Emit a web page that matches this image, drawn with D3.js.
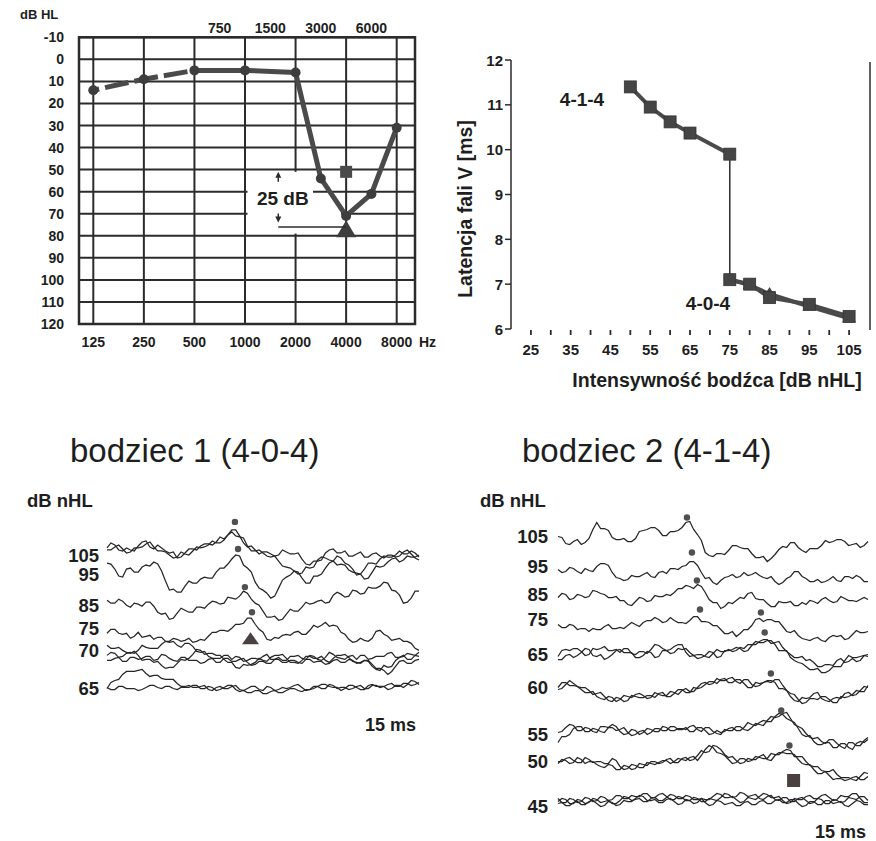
<!DOCTYPE html>
<html><head><meta charset="utf-8">
<script src="https://cdn.jsdelivr.net/npm/d3@7"></script>
<style>
body{margin:0;background:#fff}
svg text{font-family:"Liberation Sans",Arial,Helvetica,sans-serif;fill:#1e1e1e}
</style>
</head><body>
<svg id="c" width="876" height="841"></svg>
<script>
// ---------------- DATA ----------------
// Audiogram
const audioFreqs = ["125","180","250","375","500","750","1000","1500","2000","3000","4000","6000","8000"];
const octaveFreqs = ["125","250","500","1000","2000","4000","8000"];
const topFreqs = ["750","1500","3000","6000"];
const dbTicks = [-10,0,10,20,30,40,50,60,70,80,90,100,110,120];
const thrFreqs = ["125","250","500","1000","2000","3000","4000","6000","8000"];
const thrDb = [14,9,5,5,6,54,71,61,31];
const squareMark = ["4000",51];
const triangleMark = ["4000",77];
const annotRange = [51,74,76];   // arrow up tip, arrow down tip, reference line

// Latency of wave V
const latXTicks = [25,35,45,55,65,75,85,95,105];
const latMinorTicks = [25,30,35,40,45,50,55,60,65,70,75,80,85,90,95,100,105];
const latYTicks = [6,7,8,9,10,11,12];
const int414 = [50,55,60,65,75];
const lat414 = [11.4,10.95,10.62,10.37,9.9];
const int404 = [75,80,85,95,105];
const lat404 = [7.1,7.0,6.7,6.55,6.28];
const lat404b = [7.1,6.98,6.78,6.5,6.24];

// ABR waveforms: uniform samples over a 15 ms sweep, amplitude in a.u.
const sweepMs = 15;
const levels1 = ["105","95","85","75","70","65"];
const rowOff1 = [0,-19,-50,-73,-95,-133];
const L105a = [7,12,10,5,4,7,5,4,9,13,14,8,6,10,7,4,2,3,-3,-2,2,6,6,5,9,11,11,10,13,18,16,20,25,25,19,12,8,9,5,1,3,3,1,-1,0,5,3,1,1,2,-4,-9,-10,-6,-6,-5,2,5,6,2,2,4,-1,-1,1,3,-2,-2,1,2,-1,-3,0,0,-2,-1,3,5,1,-3,-5];
const L105b = [5,5,8,10,6,2,3,7,7,8,11,13,8,4,4,3,0,-3,-2,3,1,0,4,8,7,8,10,14,12,12,15,20,23,19,18,17,9,4,4,5,2,-1,-2,-1,-6,-11,-12,-13,-16,-19,-18,-12,-13,-12,-5,-2,-3,-5,-6,-1,-3,-8,-10,-14,-20,-19,-14,-8,-8,-9,-4,-1,-2,-2,0,4,1,1,4,2,-2];
const L95 = [11,10,5,-2,-3,5,6,2,2,7,9,8,12,10,3,-7,-16,-15,-18,-18,-12,-7,-9,-9,-5,-3,-4,-4,2,6,6,10,15,19,18,9,6,2,-8,-14,-16,-19,-24,-22,-14,-6,-3,-1,3,2,-4,-9,-9,-2,-2,0,6,11,13,9,10,9,4,2,1,0,-5,-4,2,8,7,8,12,15,16,12,14,18,17,17,19];
const L85 = [5,2,2,6,4,0,-2,2,1,-1,3,3,-1,-7,-9,-8,-14,-13,-8,-3,-5,-7,-7,-2,-2,-3,1,4,3,1,2,8,7,6,9,14,12,6,2,0,-6,-12,-12,-11,-15,-14,-9,-4,-6,-6,-2,3,1,2,4,5,2,3,10,13,11,8,9,15,14,11,12,18,17,17,19,23,22,15,14,10,2,3,7,14,14];
const L75 = [-5,-1,-1,-5,-6,-5,-10,-8,-4,-9,-8,-7,-11,-9,-9,-13,-13,-10,-11,-13,-12,-10,-14,-13,-11,-12,-8,-4,-4,-2,-2,-3,0,4,4,5,10,10,4,-1,-4,-11,-12,-9,-10,-7,-6,-7,-4,-3,-6,-6,-2,3,1,3,6,2,3,2,-4,-6,-11,-14,-13,-10,-12,-13,-10,-3,-2,-6,-8,-12,-11,-10,-13,-13,-15,-20,-22];
const L70a = [5,2,2,3,0,-2,-3,-1,-5,-10,-9,-9,-12,-11,-15,-18,-17,-17,-13,-9,-10,-8,-4,1,0,-4,-3,-3,-5,-5,-9,-12,-12,-17,-18,-14,-15,-14,-12,-8,-10,-11,-7,-5,-5,-4,-8,-12,-12,-13,-10,-6,-6,-8,-8,-6,-10,-12,-8,-5,-5,-4,-7,-11,-12,-13,-10,-11,-16,-19,-20,-15,-17,-16,-10,-7,-6,-3,-4,-5,-2];
const L70b = [-5,-2,-3,-7,-6,-3,-2,-3,0,5,3,2,2,2,6,9,8,9,5,3,7,7,4,-1,-2,-1,-6,-8,-8,-8,-5,-5,-9,-6,-7,-11,-10,-8,-8,-9,-6,-4,-9,-9,-7,-10,-10,-6,-6,-5,-8,-9,-5,-6,-9,-10,-7,-2,-4,-7,-8,-9,-6,-5,-9,-5,-5,-9,-8,-6,-6,-6,-3,-2,-7,-7,-5,-9,-9,-5,-6];
const L70c = [-10,-10,-8,-7,-11,-11,-7,-7,-9,-8,-6,-6,-10,-9,-4,-5,-8,-10,-11,-7,-7,-10,-10,-10,-13,-12,-9,-8,-12,-12,-8,-8,-11,-11,-9,-8,-12,-15,-14,-11,-11,-13,-13,-9,-9,-12,-12,-10,-10,-12,-13,-9,-9,-12,-11,-11,-14,-13,-10,-9,-12,-12,-9,-10,-13,-12,-10,-10,-14,-18,-18,-20,-24,-21,-16,-11,-10,-13,-13,-10,-9];
const L65a = [0,6,8,9,14,17,17,17,18,19,15,12,13,13,10,9,9,9,5,2,2,3,1,1,2,3,-1,-2,1,2,0,0,2,3,-1,-2,0,2,2,-1,-2,2,1,-2,-1,1,0,1,3,4,1,-2,-1,2,2,0,0,4,3,0,1,1,-1,0,2,3,0,0,3,3,1,2,4,5,2,2,5,5,3,4,6];
const L65b = [1,-1,-1,2,2,0,0,0,-2,-1,1,3,3,1,0,2,2,0,-1,1,1,1,3,3,0,0,2,1,-2,-1,1,3,3,-1,-3,-2,-4,-4,-2,-2,-5,-5,-3,-2,-4,-4,-2,0,0,-2,-3,-1,-1,0,2,4,4,2,1,1,-2,0,3,3,1,-1,-1,3,4,2,2,2,-1,0,3,3,1,4,8,7,4];
const traces1 = [["105",L105a],["105",L105b],["95",L95],["85",L85],["75",L75],["70",L70a],["70",L70b],["70",L70c],["65",L65a],["65",L65b]];
const peaks1 = [["105",6.15,33],["95",6.3,25],["85",6.63,18],["75",6.97,16]];
const triangle1 = ["75",6.9,-11];

const levels2 = ["105","95","85","75","65","60","55","50","45"];
const rowOff2 = [0,-30,-58,-83,-118,-151,-198,-225,-270];
const R105 = [0,-1,-7,-8,-5,-3,-8,-6,-2,7,14,8,8,6,-1,-3,-3,-2,-5,-5,-2,5,6,7,9,9,6,1,1,5,5,6,9,14,15,7,2,-4,-16,-19,-20,-17,-17,-18,-14,-9,-9,-11,-12,-12,-17,-21,-21,-20,-25,-22,-18,-13,-10,-11,-6,-6,-11,-14,-16,-12,-12,-12,-9,-4,-6,-5,-3,-3,-5,-9,-8,-7,-11,-9,-5];
const R95 = [-3,-6,-5,-1,-2,-5,-7,-2,-4,-5,0,3,3,1,-6,-11,-12,-14,-13,-9,-10,-10,-8,-6,-10,-11,-6,-5,-7,-2,-2,-3,0,1,5,5,1,-6,-12,-11,-16,-18,-14,-11,-10,-8,-11,-10,-6,-9,-8,-6,-9,-11,-12,-10,-15,-18,-16,-12,-10,-5,-5,-10,-12,-15,-15,-13,-16,-15,-13,-10,-14,-15,-10,-10,-12,-9,-11,-15,-15];
const R85 = [-3,1,0,-5,-4,0,-1,-3,-2,4,3,1,0,-3,-3,-2,-6,-6,-10,-11,-7,-3,-4,-7,-6,-1,-2,-2,0,-1,2,6,6,9,8,6,10,8,2,-5,-8,-8,-14,-12,-8,-9,-6,-3,-4,1,2,-4,-5,-5,-9,-12,-12,-7,-8,-8,-7,-11,-11,-8,-10,-6,-7,-9,-5,-3,-6,-8,-7,-2,-4,-6,-6,-7,-5,-3,-5];
const R75 = [-5,-8,-8,-5,-6,-10,-9,-9,-12,-9,-10,-10,-7,-5,-9,-9,-8,-9,-6,-3,-5,-7,-3,-1,-1,2,0,-3,-2,2,-1,-3,-3,-4,-1,3,3,-2,-2,-3,-6,-6,-10,-14,-14,-12,-17,-14,-10,-10,-6,0,1,-2,0,0,-2,-2,-7,-12,-13,-11,-16,-19,-20,-21,-19,-18,-21,-22,-18,-16,-17,-16,-20,-19,-15,-11,-13,-13,-12];
const R65a = [-2,4,5,4,6,6,3,-1,0,6,5,6,8,4,4,5,2,6,6,1,0,3,3,1,5,10,9,6,4,1,2,6,5,6,2,-1,0,0,-2,-3,1,5,3,3,5,3,4,7,6,10,10,10,13,15,15,11,12,13,7,3,0,-3,-3,-2,-6,-5,-8,-12,-12,-10,-10,-11,-6,-4,-8,-7,-4,-7,-6,-1,0];
const R65b = [-5,-5,-1,0,-3,-1,2,6,5,-1,-2,0,-5,-3,0,4,5,2,2,2,-3,-3,-1,3,2,-3,-2,4,4,5,8,10,10,2,-2,-1,-4,-3,-1,3,2,-3,-2,4,4,5,7,6,3,4,9,13,12,12,14,14,10,4,4,4,-3,-6,-8,-9,-12,-15,-15,-14,-18,-18,-16,-12,-12,-12,-6,-1,-3,-3,-2,-1,-2];
const R60a = [0,5,5,2,2,1,-2,-5,-5,-4,-9,-11,-12,-9,-10,-14,-12,-8,-9,-10,-7,-6,-8,-11,-10,-5,-7,-8,-8,-4,-5,-7,-3,-1,-4,-4,0,4,5,3,4,9,7,7,9,10,6,4,8,8,3,1,2,5,6,5,8,8,2,-3,-6,-7,-12,-16,-15,-11,-11,-12,-9,-9,-12,-15,-15,-9,-10,-9,-7,-3,-4,-4,2];
const R60b = [-2,-1,3,7,4,1,0,0,-3,-7,-6,-5,-9,-13,-14,-10,-11,-14,-13,-8,-9,-10,-10,-8,-8,-10,-6,-5,-9,-9,-6,-2,-2,-5,-5,0,-1,0,3,6,6,4,8,9,5,5,8,8,4,0,0,5,4,5,7,7,5,-1,-1,-3,-9,-13,-14,-10,-11,-10,-6,-5,-11,-13,-14,-11,-10,-11,-6,-5,-8,-7,-3,1,0];
const R55a = [2,3,7,10,9,4,4,7,6,3,2,8,8,7,10,8,3,0,1,5,4,0,2,6,5,3,3,8,7,4,4,6,6,5,8,9,5,3,7,7,3,1,0,5,4,4,8,8,5,4,7,11,10,9,14,18,17,18,21,22,16,10,8,6,1,-3,-4,-3,-7,-9,-5,-5,-9,-12,-14,-8,-8,-11,-11,-6,-3];
const R55b = [-8,-2,-2,0,6,8,8,3,3,6,5,3,2,7,7,4,5,7,2,-1,0,3,4,0,2,6,6,4,4,8,8,5,5,7,3,3,7,7,4,0,1,4,2,3,6,7,4,4,7,12,10,9,12,14,13,13,18,21,20,16,14,12,6,0,-2,-1,-7,-10,-10,-8,-8,-13,-13,-9,-9,-13,-15,-9,-7,-8,-5];
const R50a = [0,0,3,4,1,-1,-1,4,2,-1,0,0,-2,-2,3,1,-5,-8,-7,-3,-4,-6,-6,-1,-2,-3,-1,1,1,-2,0,3,2,1,4,5,1,6,12,16,14,9,8,6,2,-2,-1,3,3,0,1,5,4,3,3,8,7,7,10,12,11,5,5,5,0,-4,-5,-5,-9,-10,-10,-8,-13,-16,-16,-16,-18,-19,-15,-11,-12];
const R50b = [-2,2,1,-2,-1,4,2,-2,0,0,-3,-5,-6,-3,-4,-8,-8,-4,-5,-8,-7,-2,-3,-4,0,0,-2,-1,2,3,-1,-1,3,4,1,2,6,11,9,10,16,15,12,7,4,5,1,-2,-1,3,2,2,5,7,2,1,6,9,9,8,8,7,2,-2,-3,-3,-8,-12,-12,-10,-14,-18,-17,-17,-19,-18,-16,-15,-18,-18,-15];
const R45a = [8,4,4,8,7,4,5,9,8,5,6,10,9,6,7,11,11,8,8,11,10,10,13,13,9,9,12,13,10,7,7,10,9,6,6,9,8,5,5,8,7,6,9,13,12,9,10,14,13,10,11,12,8,7,10,11,7,6,9,9,5,5,8,9,6,3,4,8,7,3,3,7,6,4,5,9,8,7,10,10,6];
const R45b = [5,8,7,3,3,7,6,3,4,8,7,4,5,6,3,3,6,10,9,6,7,8,5,5,8,9,6,6,9,12,11,8,8,11,10,7,7,8,4,1,2,6,5,2,3,4,1,1,4,5,2,2,5,6,3,3,6,7,4,4,7,7,3,0,1,5,5,2,2,6,6,3,4,5,1,0,3,6,5,2,2];
const R45c = [3,4,1,1,4,5,2,2,5,6,3,0,1,5,4,1,2,6,5,5,8,11,10,6,6,7,4,4,7,8,5,2,3,7,6,3,4,8,7,7,10,13,12,9,9,10,7,4,5,9,8,7,10,13,12,9,9,10,6,3,4,8,7,7,10,11,8,8,11,12,9,6,7,11,10,10,13,13,8,4,4];
const traces2 = [["105",R105],["95",R95],["85",R85],["75",R75],["65",R65a],["65",R65b],["60",R60a],["60",R60b],["55",R55a],["55",R55b],["50",R50a],["50",R50b],["45",R45a],["45",R45b],["45",R45c]];
const peaks2 = [["105",6.24,19],["95",6.48,14],["85",6.72,14],["75",6.87,10],["75",9.82,7],["65",10.0,22],["60",10.3,14],["55",10.8,24],["50",11.2,16]];
const square2 = ["50",11.4,-19];

// ---------------- DRAW ----------------
const svg = d3.select("#c");
const ink = "#2b2b2b";

// ===== Audiogram =====
const xA = d3.scalePoint().domain(audioFreqs).range([93.3,396.7]);
const yA = d3.scaleLinear().domain([-10,120]).range([37.3,324]);
const aud = svg.append("g");
const fx0 = 79, fx1 = 415;
aud.selectAll("line.h").data(dbTicks).join("line")
  .attr("x1",fx0).attr("x2",fx1).attr("y1",d=>yA(d)).attr("y2",d=>yA(d))
  .attr("stroke",ink).attr("stroke-width",2);
aud.selectAll("line.v").data(octaveFreqs).join("line")
  .attr("x1",d=>xA(d)).attr("x2",d=>xA(d)).attr("y1",yA(-10)).attr("y2",yA(120))
  .attr("stroke",ink).attr("stroke-width",2);
aud.append("rect").attr("x",fx0).attr("y",yA(-10)).attr("width",fx1-fx0).attr("height",yA(120)-yA(-10))
  .attr("fill","none").attr("stroke",ink).attr("stroke-width",2.5);
// white background behind the annotation
aud.append("rect").attr("x",247.5).attr("y",yA(51)).attr("width",65.5).attr("height",yA(79)-yA(51)).attr("fill","#fff");
aud.append("rect").attr("x",313).attr("y",yA(66)).attr("width",28).attr("height",yA(74)-yA(66)).attr("fill","#fff");

// threshold curve
const thr = thrFreqs.map((f,i)=>[f,thrDb[i]]);
const lineA = d3.line().x(d=>xA(d[0])).y(d=>yA(d[1]));
aud.append("path").attr("d",lineA(thr.slice(0,3))).attr("fill","none")
  .attr("stroke","#4a4a4a").attr("stroke-width",5).attr("stroke-dasharray","24,6").attr("stroke-dashoffset",18);
aud.append("path").attr("d",lineA(thr.slice(2))).attr("fill","none")
  .attr("stroke","#4a4a4a").attr("stroke-width",5).attr("stroke-linejoin","round");
aud.selectAll("circle.t").data(thr).join("circle")
  .attr("cx",d=>xA(d[0])).attr("cy",d=>yA(d[1])).attr("r",5).attr("fill","#3d3d3d");
aud.append("rect").attr("x",xA(squareMark[0])-6).attr("y",yA(squareMark[1])-6).attr("width",12).attr("height",12).attr("fill","#4a4a4a");
{
  const tx = xA(triangleMark[0]), ty = yA(triangleMark[1]);
  aud.append("path").attr("d",`M${tx},${ty-9}L${tx+10},${ty+8}L${tx-10},${ty+8}Z`).attr("fill","#3d3d3d");
}
// annotation 25 dB
const ax = xA("1500")+8;
aud.append("line").attr("x1",ax).attr("x2",xA("4000")).attr("y1",yA(annotRange[2])).attr("y2",yA(annotRange[2])).attr("stroke",ink).attr("stroke-width",1.5);
aud.append("line").attr("x1",ax).attr("x2",ax).attr("y1",yA(annotRange[0])+2).attr("y2",yA(annotRange[0])+10).attr("stroke",ink).attr("stroke-width",1.5);
aud.append("path").attr("d",`M${ax},${yA(annotRange[0])}l-3,6h6z`).attr("fill",ink);
aud.append("line").attr("x1",ax).attr("x2",ax).attr("y1",yA(annotRange[1])-9).attr("y2",yA(annotRange[1])-2).attr("stroke",ink).attr("stroke-width",1.5);
aud.append("path").attr("d",`M${ax},${yA(annotRange[1])}l-3,-6h6z`).attr("fill",ink);
aud.append("text").attr("x",ax+4.5).attr("y",205).attr("text-anchor","middle")
  .attr("font-size",19).attr("font-weight","bold").text("25 dB");
// labels
aud.append("text").attr("x",20).attr("y",19).attr("font-size",13).attr("font-weight","bold").text("dB HL");
aud.selectAll("text.yt").data(dbTicks).join("text")
  .attr("x",64).attr("y",d=>yA(d)+5).attr("text-anchor","end").attr("font-size",14).attr("font-weight","bold").text(d=>d);
aud.selectAll("text.xt").data(octaveFreqs).join("text")
  .attr("x",d=>xA(d)).attr("y",347).attr("text-anchor","middle").attr("font-size",14).attr("font-weight","bold").text(d=>d);
aud.append("text").attr("x",419).attr("y",347).attr("font-size",14).attr("font-weight","bold").text("Hz");
aud.selectAll("text.tt").data(topFreqs).join("text")
  .attr("x",d=>xA(d)).attr("y",33).attr("text-anchor","middle").attr("font-size",14).attr("font-weight","bold").text(d=>d);

// ===== Latency chart =====
const xL = d3.scaleLinear().domain([20,110]).range([511,869]);
const yL = d3.scaleLinear().domain([6,12]).range([329,60]);
const lat = svg.append("g");
lat.append("line").attr("x1",xL(20)).attr("x2",xL(20)).attr("y1",yL(12)).attr("y2",yL(6)).attr("stroke",ink).attr("stroke-width",1.5);
lat.selectAll("line.yt").data(latYTicks).join("line")
  .attr("x1",xL(20)-6).attr("x2",xL(20)).attr("y1",d=>yL(d)).attr("y2",d=>yL(d)).attr("stroke",ink).attr("stroke-width",1.5);
lat.selectAll("text.yt").data(latYTicks).join("text")
  .attr("x",503).attr("y",d=>yL(d)+5.5).attr("text-anchor","end").attr("font-size",15).attr("font-weight","bold").text(d=>d);
lat.selectAll("line.xt").data(latMinorTicks).join("line")
  .attr("x1",d=>xL(d)).attr("x2",d=>xL(d)).attr("y1",330).attr("y2",335).attr("stroke",ink).attr("stroke-width",1.8);
lat.selectAll("text.xt").data(latXTicks).join("text")
  .attr("x",d=>xL(d)).attr("y",355).attr("text-anchor","middle").attr("font-size",15).attr("font-weight","bold").text(d=>d);
lat.append("line").attr("x1",870).attr("x2",870).attr("y1",62).attr("y2",330).attr("stroke",ink).attr("stroke-width",1.5);
lat.append("text").attr("x",717).attr("y",387).attr("text-anchor","middle").attr("font-size",19.5).attr("font-weight","bold").text("Intensywność bodźca [dB nHL]");
lat.append("text").attr("transform","translate(465,209) rotate(-90)").attr("text-anchor","middle").attr("dy","0.35em")
  .attr("font-size",19.5).attr("font-weight","bold").text("Latencja fali V [ms]");
const lineL = d3.line().x(d=>xL(d[0])).y(d=>yL(d[1]));
const s414 = int414.map((v,i)=>[v,lat414[i]]);
const s404 = int404.map((v,i)=>[v,lat404[i]]);
const s404b = int404.map((v,i)=>[v,lat404b[i]]);
lat.append("path").attr("d",lineL([s414[4],s404[0]])).attr("stroke",ink).attr("stroke-width",1.5).attr("fill","none");
lat.append("path").attr("d",lineL(s404b)).attr("stroke","#4a4a4a").attr("stroke-width",4).attr("fill","none");
lat.append("path").attr("d",lineL(s414)).attr("stroke","#4a4a4a").attr("stroke-width",4).attr("fill","none");
lat.append("path").attr("d",lineL(s404)).attr("stroke","#4a4a4a").attr("stroke-width",4).attr("fill","none");
lat.selectAll("path.tri").data(s404b.slice(1)).join("path")
  .attr("d",d=>`M${xL(d[0])},${yL(d[1])-7}l7,11h-14z`).attr("fill","#454545");
lat.selectAll("rect.sq").data(s414.concat(s404)).join("rect")
  .attr("x",d=>xL(d[0])-6).attr("y",d=>yL(d[1])-6).attr("width",12).attr("height",12).attr("fill","#454545").attr("stroke","#333").attr("stroke-width",0.8);
lat.append("text").attr("x",582).attr("y",106).attr("text-anchor","middle").attr("font-size",19).attr("font-weight","bold").text("4-1-4");
lat.append("text").attr("x",708).attr("y",310).attr("text-anchor","middle").attr("font-size",19).attr("font-weight","bold").text("4-0-4");

// ===== Waveform panels =====
function panel(cfg){
  const g = svg.append("g");
  const xS = d3.scaleLinear().domain([0,sweepMs]).range(cfg.xr);
  const yS = d3.scaleLinear().domain([0,cfg.off[cfg.off.length-1]]).range(cfg.yr);
  const offOf = lv => cfg.off[cfg.levels.indexOf(lv)];
  g.append("text").attr("x",cfg.titleX).attr("y",462).attr("font-size",33).text(cfg.title);
  g.append("text").attr("x",cfg.unitX).attr("y",507).attr("font-size",18.5).attr("font-weight","bold").text("dB nHL");
  g.selectAll("text.lv").data(cfg.levels).join("text")
    .attr("x",cfg.labelX).attr("y",d=>yS(offOf(d))+6.5).attr("text-anchor","end")
    .attr("font-size",18.5).attr("font-weight","bold").text(d=>d);
  cfg.traces.forEach(([lv,arr])=>{
    const o = offOf(lv);
    const step = sweepMs/(arr.length-1);
    const line = d3.line().x((d,i)=>xS(i*step)).y(d=>yS(o+d));
    g.append("path").attr("d",line(arr)).attr("fill","none")
      .attr("stroke","#262626").attr("stroke-width",1.25).attr("stroke-linejoin","miter");
  });
  g.selectAll("circle.pk").data(cfg.peaks).join("circle")
    .attr("cx",d=>xS(d[1])).attr("cy",d=>yS(offOf(d[0])+d[2])).attr("r",3.2).attr("fill","#505050");
  g.append("text").attr("x",cfg.msX).attr("y",cfg.msY).attr("text-anchor","end").attr("font-size",18).attr("font-weight","bold").text("15 ms");
  return {g,xS,yS,offOf};
}
const p1 = panel({xr:[107,419], yr:[555,688.5], levels:levels1, off:rowOff1, traces:traces1, peaks:peaks1,
  title:"bodziec 1 (4-0-4)", titleX:70, unitX:27, labelX:99, msX:416, msY:731});
{
  const tx = p1.xS(triangle1[1]), ty = p1.yS(p1.offOf(triangle1[0])+triangle1[2]);
  p1.g.append("path").attr("d",`M${tx},${ty-7}L${tx+8.5},${ty+5}L${tx-8.5},${ty+5}Z`).attr("fill","#4a4040");
}
const p2 = panel({xr:[558,868], yr:[536.5,806.5], levels:levels2, off:rowOff2, traces:traces2, peaks:peaks2,
  title:"bodziec 2 (4-1-4)", titleX:522, unitX:480, labelX:548, msX:866, msY:838});
{
  const sx = p2.xS(square2[1]), sy = p2.yS(p2.offOf(square2[0])+square2[2]);
  p2.g.append("rect").attr("x",sx-6.5).attr("y",sy-6.5).attr("width",13).attr("height",13).attr("fill","#4a4040");
}
</script>
</body></html>
